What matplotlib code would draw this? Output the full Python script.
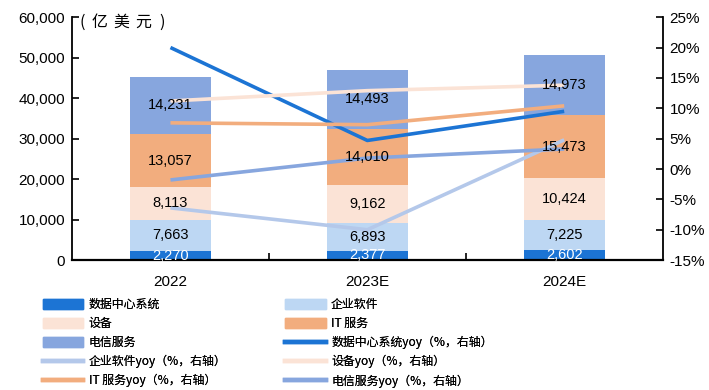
import matplotlib
matplotlib.use("Agg")
import matplotlib.pyplot as plt
from matplotlib.patches import Patch
from matplotlib.lines import Line2D
import numpy as np

plt.rcParams['font.family'] = ['Liberation Sans', 'Noto Sans CJK SC', 'DejaVu Sans']

years = ["2022", "2023E", "2024E"]

# Spending by segment (亿美元)
datacenter = [2270, 2377, 2602]
software = [7663, 6893, 7225]
devices = [8113, 9162, 10424]
it_services = [13057, 14010, 15473]
telecom = [14231, 14493, 14973]

# Year-over-year growth (%)
datacenter_yoy = [20.0, 4.7, 9.5]
software_yoy = [-6.4, -10.0, 4.8]
devices_yoy = [11.2, 12.9, 13.8]
it_services_yoy = [7.6, 7.3, 10.4]
telecom_yoy = [-1.8, 1.8, 3.3]

seg_names = ["数据中心系统", "企业软件", "设备", "IT 服务", "电信服务"]
seg_values = [datacenter, software, devices, it_services, telecom]
yoy_values = [datacenter_yoy, software_yoy, devices_yoy, it_services_yoy, telecom_yoy]
bar_colors = ["#1c74d4", "#bdd7f3", "#fbe3d6", "#f2ad7e", "#87a6de"]
line_colors = ["#1c74d4", "#b4c8ea", "#fbe3d6", "#f2ad7e", "#87a6de"]
label_colors = ["white", "black", "black", "black", "black"]

fig = plt.figure(figsize=(7.09, 3.90), dpi=100)
ax = fig.add_axes([0.1016, 0.333, 0.833, 0.623])
ax2 = ax.twinx()

x = np.arange(len(years))
bottom = np.zeros(len(years))
for name, vals, col, lc in zip(seg_names, seg_values, bar_colors, label_colors):
    vals = np.array(vals, dtype=float)
    ax.bar(x, vals, width=0.41, bottom=bottom, color=col, zorder=2)
    # value labels sit above the growth lines, so they go on the top axes
    for xi, b, v in zip(x, bottom, vals):
        ax2.text(xi, b + v / 2, f"{int(v):,}", ha="center", va="center",
                 fontsize=10.5, color=lc, zorder=6, transform=ax.transData)
    bottom += vals

for vals, col in zip(yoy_values, line_colors):
    ax2.plot(x, vals, color=col, lw=2.6, solid_capstyle="butt", zorder=4)

ax.set_xlim(-0.5, 2.5)
ax.set_ylim(0, 60000)
ax.set_yticks(np.arange(0, 60001, 10000))
ax.set_yticklabels([f"{v:,}" for v in range(0, 60001, 10000)])
ax2.set_ylim(-15, 25)
ax2.set_yticks(np.arange(-15, 26, 5))
ax2.set_yticklabels([f"{v}%" for v in range(-15, 26, 5)])

ax.set_xticks(x)
ax.set_xticklabels(years)
ax.set_xticks([0.5, 1.5], minor=True)
ax.tick_params(axis="x", which="major", length=0, labelsize=11, pad=11)
ax.tick_params(axis="x", which="minor", length=5, direction="in", width=1.2)
ax.tick_params(axis="y", direction="in", length=5, width=1.2, labelsize=11, pad=5)
ax2.tick_params(axis="y", direction="in", length=5, width=1.2, labelsize=11, pad=5)

for a in (ax, ax2):
    a.spines["top"].set_visible(False)
    for s in ("left", "right"):
        a.spines[s].set_linewidth(1.3)
    a.spines["bottom"].set_linewidth(1.6)
ax.spines["right"].set_visible(False)
ax2.spines["left"].set_visible(False)
ax2.spines["bottom"].set_visible(False)

# unit label, letter-spaced
unit_chars = ["(", "亿", "美", "元", ")"]
unit_x = [0.017, 0.047, 0.084, 0.121, 0.153]
for ch, ux in zip(unit_chars, unit_x):
    ax2.text(ux, 0.978, ch, transform=ax.transAxes, ha="center", va="center",
             fontsize=11.5, family=["Noto Sans CJK SC", "DejaVu Sans"], zorder=6)

handles = [Patch(color=c) for c in bar_colors]
handles += [Line2D([], [], color=c, lw=3.2) for c in line_colors]
labels = seg_names + [n + "yoy（%，右轴）" for n in seg_names]
cjk = {"family": ["Noto Sans CJK SC", "DejaVu Sans"], "size": 8.6}
columns = [[0, 2, 4, 6, 8], [1, 3, 5, 7, 9]]
anchors = [0.060, 0.402]
for idx, xa in zip(columns, anchors):
    leg = fig.legend([handles[i] for i in idx], [labels[i] for i in idx],
                     loc="upper left", bbox_to_anchor=(xa, 0.236), ncol=1,
                     frameon=False, handlelength=3.4, handleheight=0.85,
                     handletextpad=0.45, labelspacing=0.5, borderaxespad=0,
                     borderpad=0, prop=cjk)
    fig.add_artist(leg)

fig.savefig("out.png", dpi=100)
